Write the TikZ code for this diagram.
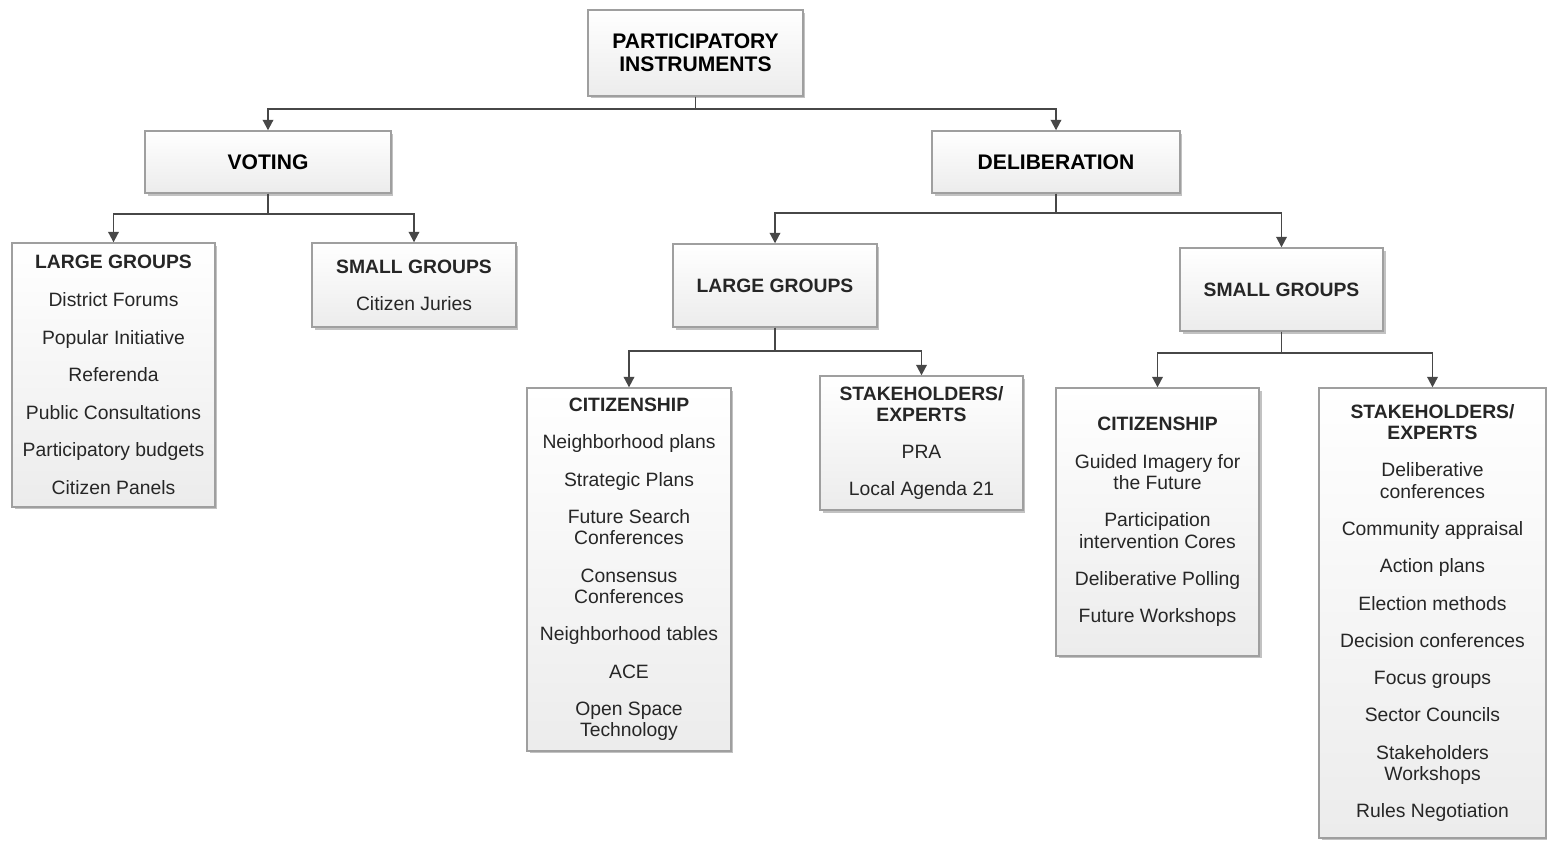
\documentclass[tikz,border=0pt]{standalone}
\usepackage{fontspec}
\setmainfont{Liberation Sans}
\usetikzlibrary{positioning,shadows,arrows.meta}

\begin{document}
\begin{tikzpicture}[x=0.02cm,y=-0.02cm,
    box/.style={draw=gray!75, line width=0.8pt, top color=white, bottom color=gray!15,
        drop shadow={shadow xshift=0.05cm, shadow yshift=-0.05cm, fill=gray!80, opacity=0.6},
        inner sep=0pt, align=center, text=black!85, font=\fontsize{11}{12.2}\selectfont},
    topbox/.style={box, font=\fontsize{12}{13}\selectfont\bfseries, text=black},
    arr/.style={draw=black!72, line width=1.1pt, -{Triangle[length=6pt,width=6pt]}}]
    \useasboundingbox (0,0) rectangle (1547,843);

    % Root and first level
    \node[topbox, minimum width=4.3cm, minimum height=1.72cm] (pi) at (695.5,53) {PARTICIPATORY\\INSTRUMENTS};
    \node[topbox, minimum width=4.92cm, minimum height=1.24cm] (voting) at (268,162) {VOTING};
    \node[topbox, minimum width=4.96cm, minimum height=1.24cm] (delib) at (1056,162) {DELIBERATION};

    % Voting
    \node[box, minimum width=4.06cm, minimum height=5.28cm] (vlarge) at (113.5,375) {\textbf{LARGE GROUPS}\\[9.2pt]
        District Forums\\[9.2pt] Popular Initiative\\[9.2pt] Referenda\\[9.2pt]
        Public Consultations\\[9.2pt] Participatory budgets\\[9.2pt] Citizen Panels};
    \node[box, minimum width=4.08cm, minimum height=1.68cm] (vsmall) at (414,285) {\textbf{SMALL GROUPS}\\[9pt] Citizen Juries};

    % Deliberation
    \node[box, minimum width=4.08cm, minimum height=1.66cm] (dlarge) at (775,285.5) {\textbf{LARGE GROUPS}};
    \node[box, minimum width=4.06cm, minimum height=1.66cm] (dsmall) at (1281.5,289.5) {\textbf{SMALL GROUPS}};

    % Deliberation, large groups
    \node[box, minimum width=4.08cm, minimum height=7.26cm] (lcit) at (629,569.5) {\textbf{CITIZENSHIP}\\[9pt]
        Neighborhood plans\\[9pt] Strategic Plans\\[9pt] Future Search\\Conferences\\[9pt]
        Consensus\\Conferences\\[9pt] Neighborhood tables\\[9pt] ACE\\[9pt] Open Space\\Technology};
    \node[box, minimum width=4.06cm, minimum height=2.68cm] (lstake) at (921.5,443) {\textbf{STAKEHOLDERS/}\\\textbf{EXPERTS}\\[9pt]
        PRA\\[9pt] Local Agenda 21};

    % Deliberation, small groups
    \node[box, minimum width=4.06cm, minimum height=5.36cm] (scit) at (1157.5,522) {\textbf{CITIZENSHIP}\\[9pt]
        Guided Imagery for\\the Future\\[9pt] Participation\\intervention Cores\\[9pt]
        Deliberative Polling\\[9pt] Future Workshops};
    \node[box, minimum width=4.54cm, minimum height=9cm] (sstake) at (1432.5,613) {\textbf{STAKEHOLDERS/}\\\textbf{EXPERTS}\\[9pt]
        Deliberative\\conferences\\[9pt] Community appraisal\\[9pt] Action plans\\[9pt]
        Election methods\\[9pt] Decision conferences\\[9pt] Focus groups\\[9pt]
        Sector Councils\\[9pt] Stakeholders\\Workshops\\[9pt] Rules Negotiation};

    % Connectors
    \draw[arr] (pi.south) -- ++(0,12) -| (voting.north);
    \draw[arr] (pi.south) -- ++(0,12) -| (delib.north);
    \draw[arr] (voting.south) -- ++(0,20) -| (vlarge.north);
    \draw[arr] (voting.south) -- ++(0,20) -| (vsmall.north);
    \draw[arr] (delib.south) -- ++(0,19) -| (dlarge.north);
    \draw[arr] (delib.south) -- ++(0,19) -| (dsmall.north);
    \draw[arr] (dlarge.south) -- ++(0,23) -| (lcit.north);
    \draw[arr] (dlarge.south) -- ++(0,23) -| (lstake.north);
    \draw[arr] (dsmall.south) -- ++(0,21) -| (scit.north);
    \draw[arr] (dsmall.south) -- ++(0,21) -| (sstake.north);
\end{tikzpicture}
\end{document}
